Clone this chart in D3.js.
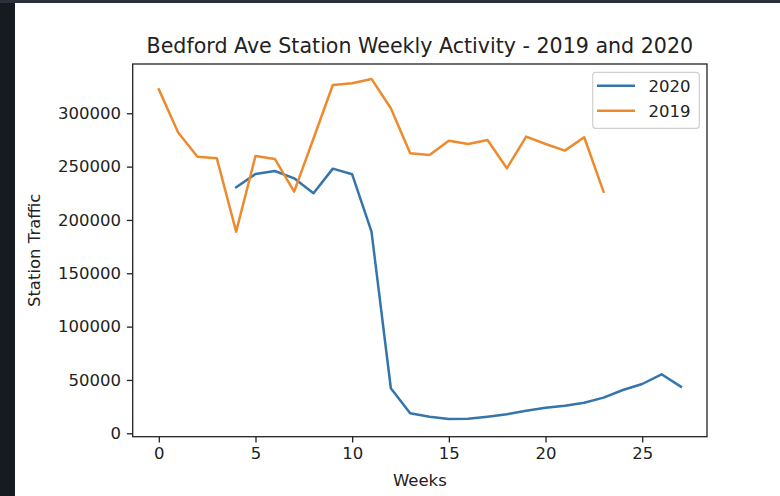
<!DOCTYPE html>
<html>
<head>
<meta charset="utf-8">
<script src="https://cdn.jsdelivr.net/npm/d3@7"></script>
<style>
  html, body { margin: 0; padding: 0; background: #ffffff; }
  svg { display: block; font-family: "DejaVu Sans", sans-serif; }
</style>
</head>
<body>
<svg id="chart" width="780" height="496"></svg>
<script>
// ---- data ----
const title = "Bedford Ave Station Weekly Activity - 2019 and 2020";
const xLabel = "Weeks";
const yLabel = "Station Traffic";
const weeks2020 = [4,5,6,7,8,9,10,11,12,13,14,15,16,17,18,19,20,21,22,23,24,25,26,27];
const traffic2020 = [230600,243100,245900,239000,225000,248100,242800,189000,42200,18700,15600,13400,13700,15600,17800,21200,24000,25900,28700,33400,40600,46200,55300,43700];
const weeks2019 = [0,1,2,3,4,5,6,7,8,9,10,11,12,13,14,15,16,17,18,19,20,21,22,23];
const traffic2019 = [322500,282000,259300,257800,189000,260000,257200,226500,276400,326500,328100,332200,304700,262500,260900,274300,271200,275000,248400,278100,271200,265000,277500,226500];
const xTicks = [0,5,10,15,20,25];
const yTicks = [0,50000,100000,150000,200000,250000,300000];
const seriesNames = ["2020","2019"];
const seriesColors = ["#3475ab","#ec8b2e"];

// ---- layout ----
const svg = d3.select("#chart");
const L = 132.7, R = 707, T = 64, B = 436.7;
const fs = 16.5;

// page frame (dark edges from screenshot)
svg.append("rect").attr("x",0).attr("y",0).attr("width",15).attr("height",496).attr("fill","#161b22");
svg.append("rect").attr("x",0).attr("y",0).attr("width",780).attr("height",3).attr("fill","#2a313a");

const x = d3.scaleLinear().domain([-1.35, 28.35]).range([L, R]);
const y = d3.scaleLinear().domain([-3200, 346200]).range([B, T]);

const g = svg.append("g");

// lines
const line = d3.line().x(d => x(d[0])).y(d => y(d[1]));
const series = [
  d3.zip(weeks2020, traffic2020),
  d3.zip(weeks2019, traffic2019)
];
series.forEach((s, i) => {
  g.append("path").datum(s)
    .attr("d", line)
    .attr("fill", "none")
    .attr("stroke", seriesColors[i])
    .attr("stroke-width", 2.5)
    .attr("stroke-linejoin", "round")
    .attr("stroke-linecap", "square");
});

// axes
const xAxis = d3.axisBottom(x).tickValues(xTicks).tickSize(5.8).tickPadding(5).tickFormat(d3.format("d"));
const yAxis = d3.axisLeft(y).tickValues(yTicks).tickSize(5.8).tickPadding(6).tickFormat(d3.format("d"));

const gx = svg.append("g").attr("transform", `translate(0,${B})`).call(xAxis);
const gy = svg.append("g").attr("transform", `translate(${L},0)`).call(yAxis);
[gx, gy].forEach(a => {
  a.select(".domain").remove();
  a.selectAll(".tick line").attr("stroke", "#222").attr("stroke-width", 1.3);
  a.selectAll(".tick text").attr("fill", "#222").style("font-size", fs + "px").style("font-family", "DejaVu Sans");
});
gx.selectAll(".tick text").attr("dy", "0.71em");

// spines
svg.append("rect").attr("x", L).attr("y", T).attr("width", R - L).attr("height", B - T)
  .attr("fill", "none").attr("stroke", "#222").attr("stroke-width", 1.3);

// title & labels
svg.append("text").attr("x", (L + R) / 2).attr("y", 53).attr("text-anchor", "middle")
  .attr("fill", "#222").style("font-size", "20.6px").text(title);
svg.append("text").attr("x", (L + R) / 2).attr("y", 486).attr("text-anchor", "middle")
  .attr("fill", "#222").style("font-size", fs + "px").text(xLabel);
svg.append("text").attr("transform", `translate(40,${(T + B) / 2}) rotate(-90)`).attr("text-anchor", "middle")
  .attr("fill", "#222").style("font-size", fs + "px").text(yLabel);

// legend
const lg = svg.append("g");
lg.append("rect").attr("x", 592.7).attr("y", 72.3).attr("width", 106.6).attr("height", 56).attr("rx", 3)
  .attr("fill", "#fff").attr("fill-opacity", 0.8).attr("stroke", "#d0d0d0").attr("stroke-width", 1.2);
seriesNames.forEach((n, i) => {
  const yy = 85.7 + i * 25;
  lg.append("line").attr("x1", 597).attr("x2", 635).attr("y1", yy).attr("y2", yy)
    .attr("stroke", seriesColors[i]).attr("stroke-width", 2.5);
  lg.append("text").attr("x", 648.5).attr("y", yy).attr("dy", "0.36em")
    .attr("fill", "#222").style("font-size", fs + "px").text(n);
});
</script>
</body>
</html>
